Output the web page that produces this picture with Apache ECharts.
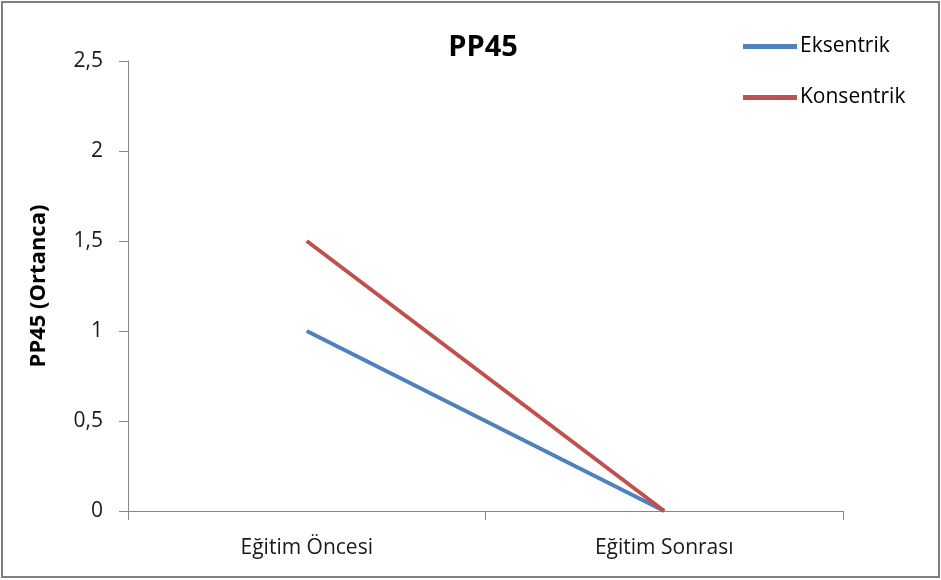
<!DOCTYPE html>
<html>
<head>
<meta charset="utf-8">
<script src="https://cdn.jsdelivr.net/npm/echarts@6/dist/echarts.min.js"></script>
<style>
  html, body { margin: 0; padding: 0; background: #fff; }
  #chart { width: 941px; height: 580px; }
</style>
</head>
<body>
<div id="chart"></div>
<script>
// PP45 median scores before and after training
const categories = ['Eğitim Öncesi', 'Eğitim Sonrası'];
const eksentrik = [1, 0];
const konsentrik = [1.5, 0];
const yTicks = { min: 0, max: 2.5, interval: 0.5 };

const font = '"Open Sans", Lato, sans-serif';
const axisColor = '#868686';

const chart = echarts.init(document.getElementById('chart'), null, { renderer: 'canvas' });
chart.setOption({
  animation: false,
  backgroundColor: '#fff',
  textStyle: { fontFamily: font },
  title: {
    text: 'PP45',
    left: 478,
    textAlign: 'center',
    top: 28,
    textStyle: { fontFamily: font, fontSize: 29, fontWeight: 'bold', color: '#000' }
  },
  legend: {
    orient: 'vertical',
    left: 743,
    top: 36,
    padding: 0,
    itemWidth: 54,
    itemHeight: 5,
    itemGap: 30,
    icon: 'rect',
    textStyle: { fontFamily: font, fontSize: 21, color: '#000', padding: [0, 0, 0, -2] },
    data: ['Eksentrik', 'Konsentrik']
  },
  grid: { left: 128, right: 98, top: 61, bottom: 69, containLabel: false },
  xAxis: {
    type: 'category',
    data: categories,
    boundaryGap: true,
    axisLine: { lineStyle: { color: axisColor, width: 1 } },
    axisTick: { show: true, length: 9, lineStyle: { color: axisColor } },
    axisLabel: { fontFamily: font, fontSize: 21, color: '#1a1a1a', margin: 27 },
    splitLine: { show: false }
  },
  yAxis: {
    type: 'value',
    min: yTicks.min,
    max: yTicks.max,
    interval: yTicks.interval,
    name: 'PP45 (Ortanca)',
    nameLocation: 'middle',
    nameGap: 78,
    nameRotate: 90,
    nameTextStyle: { fontFamily: font, fontSize: 22, fontWeight: 'bold', color: '#000' },
    axisLine: { show: true, lineStyle: { color: axisColor, width: 1 } },
    axisTick: { show: true, length: 9, lineStyle: { color: axisColor } },
    axisLabel: {
      fontFamily: font, fontSize: 21, color: '#1a1a1a', margin: 25,
      formatter: v => String(v).replace('.', ',')
    },
    splitLine: { show: false }
  },
  series: [
    {
      name: 'Eksentrik',
      type: 'line',
      data: eksentrik,
      symbol: 'none',
      lineStyle: { color: '#4F81BD', width: 4 },
      itemStyle: { color: '#4F81BD' }
    },
    {
      name: 'Konsentrik',
      type: 'line',
      data: konsentrik,
      symbol: 'none',
      lineStyle: { color: '#C0504D', width: 4 },
      itemStyle: { color: '#C0504D' }
    }
  ],
  graphic: [
    {
      type: 'rect',
      shape: { x: 2, y: 2, width: 937, height: 575 },
      style: { fill: 'none', stroke: '#7f7f7f', lineWidth: 2 },
      silent: true
    }
  ]
});
</script>
</body>
</html>
